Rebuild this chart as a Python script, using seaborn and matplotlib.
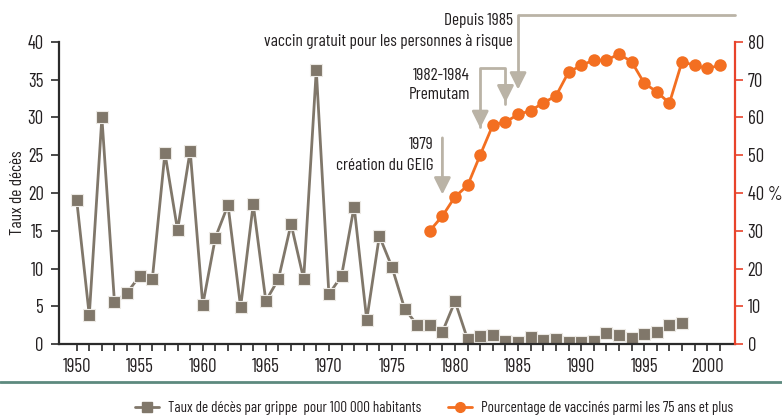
import matplotlib
matplotlib.use("Agg")
import matplotlib.pyplot as plt
import seaborn as sns
import pandas as pd
from matplotlib.lines import Line2D

death_years = list(range(1950, 1999))
death_rates = [19.1, 3.8, 30.0, 5.5, 6.8, 9.0, 8.6, 25.3, 15.1, 25.6,
               5.2, 14.1, 18.4, 4.9, 18.5, 5.7, 8.6, 15.9, 8.6, 36.3,
               6.6, 9.0, 18.2, 3.2, 14.3, 10.2, 4.7, 2.5, 2.5, 1.6,
               5.65, 0.6, 1.0, 1.15, 0.4, 0.2, 0.9, 0.5, 0.6, 0.2,
               0.3, 0.4, 1.4, 1.25, 0.8, 1.35, 1.6, 2.5, 2.8]
vacc_years = list(range(1978, 2002))
vacc_pct = [30.0, 33.9, 39.0, 42.0, 50.1, 58.0, 58.8, 60.8, 61.8, 63.9,
            65.7, 72.0, 73.8, 75.2, 75.2, 76.8, 74.8, 69.1, 66.8, 63.8,
            74.8, 73.8, 73.0, 73.8]
left_ticks = [0, 5, 10, 15, 20, 25, 30, 35, 40]
right_ticks = [0, 10, 20, 30, 40, 50, 60, 70, 80]
right_labels = ["0", "10", "20", "30", "40\u2009%", "50", "60", "70", "80"]
x_ticks = [1950, 1955, 1960, 1965, 1970, 1975, 1980, 1985, 1990, 1995, 2000]
label_deaths = "Taux de décès par grippe  pour 100 000 habitants"
label_vacc = "Pourcentage de vaccinés parmi les 75 ans et plus"

sns.set_style("white")
plt.rcParams['font.family'] = ["Barlow Condensed", "DejaVu Sans"]

GRAY = "#80776a"
ORANGE = "#f36f21"
RED = "#e8432b"
ARROW = "#bab3a6"
TXT = "#231f20"

fig = plt.figure(figsize=(7.82, 4.2), dpi=100)
ax = fig.add_axes([59/782, 1-344/420, (735-59)/782, (344-42)/420])
ax2 = ax.twinx()

df_d = pd.DataFrame({"year": death_years, "rate": death_rates})
df_v = pd.DataFrame({"year": vacc_years, "pct": vacc_pct})

sns.lineplot(data=df_d, x="year", y="rate", ax=ax, color=GRAY, lw=2,
             marker="s", markersize=9, markeredgecolor="#ece9e4", markeredgewidth=0.8)
sns.lineplot(data=df_v, x="year", y="pct", ax=ax2, color=ORANGE, lw=2,
             marker="o", markersize=9, markeredgecolor=ORANGE, markeredgewidth=0)

ax.set_xlim(1948.6, 2002.2)
ax.set_ylim(0, 40)
ax2.set_ylim(0, 80)
ax.set_yticks(left_ticks)
ax.set_yticklabels([str(t) for t in left_ticks])
ax2.set_yticks(right_ticks)
ax2.set_yticklabels(right_labels)
ax.set_xticks(x_ticks)
ax.set_xticks(list(range(1950, 2002)), minor=True)
ax.set_xlabel("")
ax2.set_xlabel("")
ax.set_ylabel("Taux de décès", fontsize=12.5, color=TXT, labelpad=2)
ax2.set_ylabel("")

for s in ["top", "right"]:
    ax.spines[s].set_visible(False)
for s in ["top", "left", "bottom"]:
    ax2.spines[s].set_visible(False)
ax.spines["left"].set_color("#2b2b2b")
ax.spines["left"].set_linewidth(1.6)
ax.spines["bottom"].set_color("#2b2b2b")
ax.spines["bottom"].set_linewidth(1.6)
ax2.spines["right"].set_color(RED)
ax2.spines["right"].set_linewidth(1.6)

ax.tick_params(axis="y", direction="out", length=6, width=1.2, color="#2b2b2b",
               labelsize=13.5, labelcolor=TXT, pad=5, left=True)
ax.tick_params(axis="x", which="both", direction="out", length=5, width=1.2,
               color="#2b2b2b", labelsize=13.5, labelcolor=TXT, pad=5, bottom=True)
ax2.tick_params(axis="y", direction="out", length=6, width=1.2, color=RED,
                labelsize=13.5, labelcolor=TXT, pad=3, right=True)

# annotations (in left-axis data coords)
akw = dict(arrowstyle="-|>,head_length=1.0,head_width=0.5", color=ARROW, lw=2,
           shrinkA=0, shrinkB=0)
ax.annotate("", xy=(1979, 19.8), xytext=(1979, 27.3), arrowprops=akw, annotation_clip=False)
ax.plot([1982, 1982, 1984, 1984], [28.8, 36.6, 36.6, 31.8], color=ARROW, lw=2, clip_on=False)
ax.annotate("", xy=(1982, 28.6), xytext=(1982, 30.5), arrowprops=akw, annotation_clip=False)
ax.annotate("", xy=(1984, 32.0), xytext=(1984, 34.0), arrowprops=akw, annotation_clip=False)
ax.plot([2002.2, 1985, 1985], [43.6, 43.6, 35.0], color=ARROW, lw=2, clip_on=False)
ax.annotate("", xy=(1985, 33.7), xytext=(1985, 36.0), arrowprops=akw, annotation_clip=False)

tkw = dict(ha="right", va="center", fontsize=12.5, color=TXT, clip_on=False)
ax.text(1978.3, 26.4, "1979", **tkw)
ax.text(1978.3, 23.7, "création du GEIG", **tkw)
ax.text(1981.2, 35.6, "1982-1984", **tkw)
ax.text(1981.2, 33.0, "Premutam", **tkw)
ax.text(1984.6, 42.9, "Depuis 1985", **tkw)
ax.text(1984.6, 40.1, "vaccin gratuit pour les personnes à risque", **tkw)

fig.add_artist(Line2D([0, 1], [1-382/420, 1-382/420], color="#5d8a7e", lw=2))

handles = [Line2D([], [], color=GRAY, lw=2, marker="s", markersize=7),
           Line2D([], [], color=ORANGE, lw=2, marker="o", markersize=7)]
fig.legend(handles, [label_deaths, label_vacc], loc="center", ncol=2,
           bbox_to_anchor=(0.555, 1-408/420), frameon=False, fontsize=10.8,
           handlelength=1.6, columnspacing=1.8, handletextpad=0.6, labelcolor=TXT)

fig.savefig("out.png", dpi=100)
